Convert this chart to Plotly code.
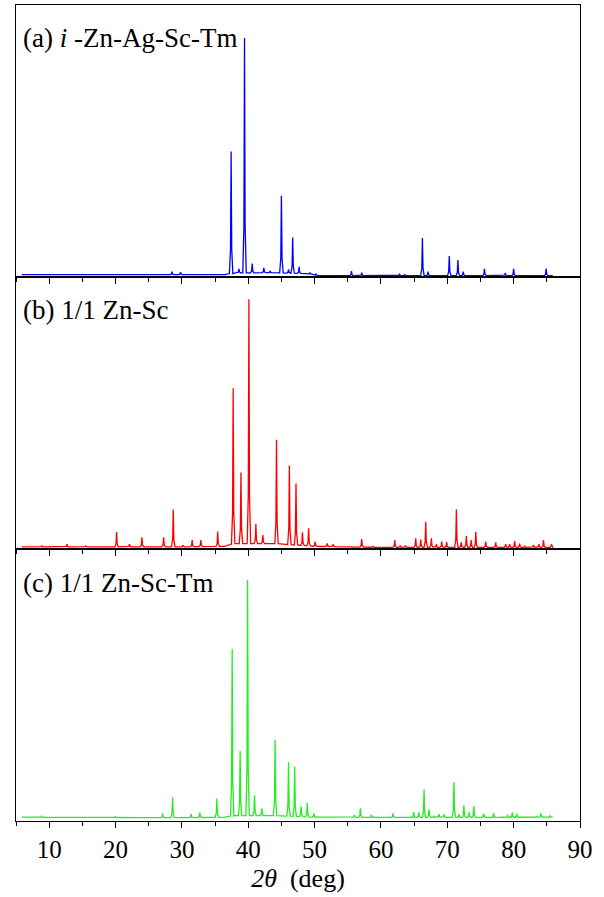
import numpy as np
import plotly.graph_objects as go

# ---------------- data ----------------
# (a) i-Zn-Ag-Sc-Tm  (blue)
a_base_x = [5.86, 20.0, 36.5, 38.0, 44.0, 49.0, 50.5, 70.0, 85.9]
a_base_y = [0.9, 0.8, 0.9, 1.5, 1.6, 1.2, 0.5, 0.5, 0.5]
a_pos = [28.5, 29.8, 37.42, 38.6, 39.44, 40.6, 42.35, 43.3, 45.0, 46.07, 46.7, 47.67,
         49.3, 50.2, 55.56, 57.1, 62.8, 63.6, 66.25, 67.1, 70.3, 71.6, 72.4, 75.6,
         78.75, 80.0, 84.9]
a_h = [2.0, 1.8, 46.1, 3.0, 87.9, 4.9, 3.4, 2.2, 29.9, 2.8, 14.5, 3.7,
       1.6, 1.1, 2.2, 1.6, 1.2, 1.0, 14.3, 2.0, 7.7, 6.2, 2.0, 3.0,
       1.5, 3.0, 3.1]

# (b) 1/1 Zn-Sc  (red)
b_base_x = [5.86, 30.0, 36.5, 38.0, 44.0, 50.0, 60.0, 85.9]
b_base_y = [0.8, 0.8, 1.0, 2.0, 2.0, 1.0, 0.6, 0.6]
b_pos = [8.87, 12.68, 15.5, 20.16, 22.1, 23.98, 25.6, 27.25, 28.7, 30.15, 31.55,
         32.86, 35.4, 37.73, 38.9, 40.1, 41.15, 42.2, 44.26, 46.2, 47.2, 48.17,
         49.1, 50.08, 51.9, 52.8, 57.1, 58.8, 62.08, 62.9, 63.7, 65.24, 66.0,
         66.75, 67.6, 68.36, 69.16, 69.9, 71.37, 72.1, 72.87, 73.6, 74.3, 75.8,
         77.3, 78.8, 79.4, 80.15, 80.9, 81.66, 83.0, 83.8, 84.5, 85.7]
b_h = [1.3, 1.8, 1.1, 6.2, 1.8, 4.3, 1.0, 4.3, 14.5, 1.4, 3.3,
       3.3, 6.4, 59.1, 28.1, 91.8, 9.2, 5.1, 40.2, 30.7, 24.1, 6.1,
       7.6, 2.7, 2.1, 1.8, 3.7, 1.0, 3.3, 1.3, 1.3, 3.9, 3.5,
       10.0, 3.9, 1.8, 2.7, 2.5, 14.5, 2.5, 4.8, 3.3, 6.2, 2.7,
       2.4, 1.8, 1.8, 2.9, 2.0, 1.2, 1.5, 1.8, 3.3, 1.7]

# (c) 1/1 Zn-Sc-Tm  (green)
c_base_x = [5.86, 30.0, 36.5, 38.0, 44.0, 50.0, 60.0, 85.9]
c_base_y = [1.4, 1.2, 1.4, 2.0, 2.0, 1.4, 1.3, 1.4]
c_pos = [8.87, 12.6, 20.0, 23.9, 27.1, 28.6, 31.4, 32.7, 35.27, 37.58, 38.78,
         39.9, 40.95, 42.05, 44.05, 46.07, 47.0, 47.97, 48.9, 49.9, 51.7, 52.6,
         54.3, 56.0, 56.9, 58.57, 60.2, 61.8, 62.6, 63.3, 64.94, 65.7, 66.5,
         67.25, 68.0, 68.75, 69.5, 71.0, 71.77, 72.5, 73.3, 74.0, 75.5, 77.0,
         78.4, 79.1, 79.8, 80.5, 81.3, 82.66, 83.4, 84.1, 85.5]
c_h = [1.8, 1.5, 1.6, 1.3, 2.8, 8.7, 2.6, 3.1, 8.3, 63.2, 25.7,
       88.6, 9.5, 4.7, 29.8, 21.6, 20.0, 5.3, 6.7, 2.8, 1.5, 1.2,
       1.2, 2.2, 4.7, 2.2, 1.0, 2.8, 1.3, 1.2, 3.3, 3.2, 11.6,
       4.3, 1.8, 2.6, 2.4, 14.2, 2.4, 5.8, 3.2, 5.5, 2.6, 2.8,
       1.6, 2.2, 3.2, 2.6, 1.6, 1.5, 1.8, 2.8, 2.0]

panel_labels = ["(a) <i>i</i> -Zn-Ag-Sc-Tm", "(b) 1/1 Zn-Sc", "(c) 1/1 Zn-Sc-Tm"]
colors = ["#0000FF", "#FF0000", "#22EE22"]
x_ticks = [10, 20, 30, 40, 50, 60, 70, 80, 90]

SERIF = "Liberation Serif"


def build_curve(base_x, base_y, pos, h, hw=0.26):
    pts = [(base_x[0], base_y[0]), (base_x[-1], base_y[-1])]
    for bx, by in zip(base_x[1:-1], base_y[1:-1]):
        if not any(abs(bx - p) <= hw for p in pos):
            pts.append((bx, by))
    for p, hh in zip(pos, h):
        foot = float(np.interp(p, base_x, base_y))
        pts.append((p - hw, foot))
        pts.append((p - hw * 0.35, foot + (hh - foot) * 0.2))
        pts.append((p, max(hh, foot)))
        pts.append((p + hw * 0.35, foot + (hh - foot) * 0.2))
        pts.append((p + hw, foot))
    pts.sort(key=lambda t: t[0])
    return [t[0] for t in pts], [t[1] for t in pts]


data = [(a_base_x, a_base_y, a_pos, a_h),
        (b_base_x, b_base_y, b_pos, b_h),
        (c_base_x, c_base_y, c_pos, c_h)]

fig = go.Figure()
domains = [[2 / 3, 1.0], [1 / 3, 2 / 3], [0.0, 1 / 3]]

for i, (bx, by, pos, h) in enumerate(data):
    xs, ys = build_curve(bx, by, pos, h)
    ax = "" if i == 0 else str(i + 1)
    fig.add_trace(go.Scatter(x=xs, y=ys, mode="lines",
                             line=dict(color=colors[i], width=1.3),
                             xaxis="x" + ax, yaxis="y" + ax,
                             showlegend=False, hoverinfo="skip"))

axis_font = dict(family=SERIF, size=25, color="black")

layout = dict(
    width=604, height=897,
    margin=dict(l=16, r=24, t=5, b=76, autoexpand=False),
    plot_bgcolor="white", paper_bgcolor="white",
    showlegend=False,
    font=dict(family=SERIF, color="black"),
)

for i in range(3):
    ax = "" if i == 0 else str(i + 1)
    xa = dict(range=[5, 90], domain=[0, 1], showgrid=False, zeroline=False,
              showline=True, linecolor="black", linewidth=1.3, mirror=True,
              ticks="outside", ticklen=6, tickwidth=1.2, tickcolor="black",
              tickvals=x_ticks, automargin=False,
              minor=dict(dtick=5, tick0=5, ticks="outside", ticklen=3.5,
                         tickwidth=1.2, tickcolor="black"),
              anchor="y" + ax, tickfont=axis_font,
              showticklabels=(i == 2))
    if i == 2:
        xa["title"] = dict(text="<i>2θ</i>  (deg)",
                           font=dict(family=SERIF, size=26, color="black"),
                           standoff=6)
    if i > 0:
        xa["matches"] = "x"
    ya = dict(range=[0, 100], domain=domains[i], showgrid=False, zeroline=False,
              showline=True, linecolor="black", linewidth=1.3, mirror=True,
              ticks="", showticklabels=False, anchor="x" + ax, automargin=False)
    layout["xaxis" + ax] = xa
    layout["yaxis" + ax] = ya

fig.update_layout(**layout)

label_y = [0.959, 0.626, 0.292]
for i, txt in enumerate(panel_labels):
    fig.add_annotation(text=txt, xref="paper", yref="paper", x=0.008, y=label_y[i],
                       xanchor="left", yanchor="middle", showarrow=False,
                       font=dict(family=SERIF, size=27, color="black"))

fig.write_html("out.html", config={"displayModeBar": False},
               post_script="document.body.style.margin='0';document.body.style.padding='0';")
